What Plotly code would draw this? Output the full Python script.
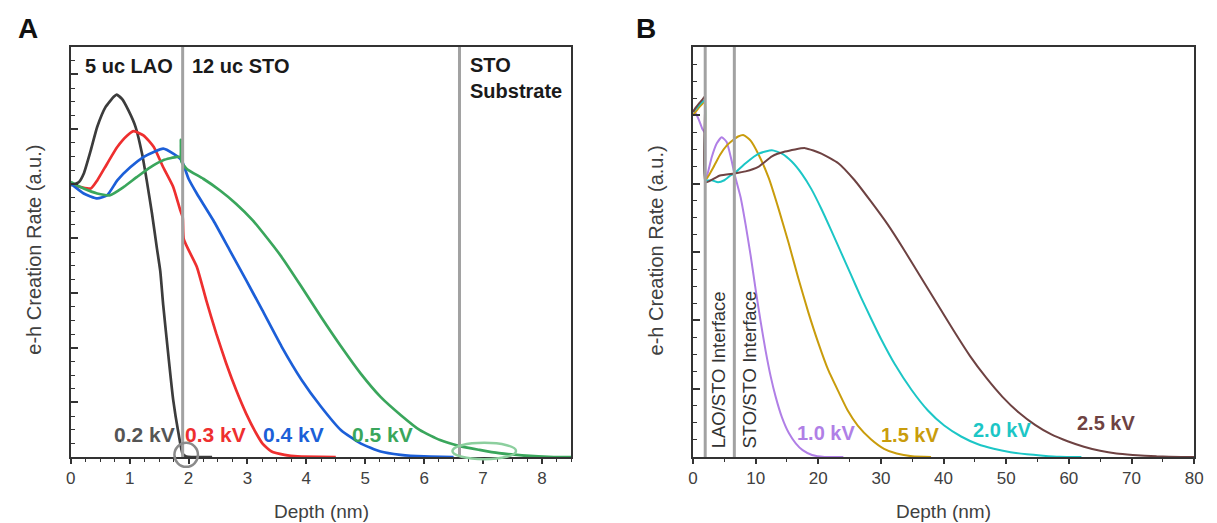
import plotly.graph_objects as go

# ---------------- Panel A data (depth nm, e-h rate a.u.) ----------------
a_black_x = [0, 0.14, 0.22, 0.34, 0.45, 0.59, 0.73, 0.78, 0.87, 0.98, 1.10, 1.21, 1.29, 1.38, 1.46, 1.52,
             1.57, 1.66, 1.74, 1.83, 1.90, 1.96, 2.05, 2.4]
a_black_y = [4.97, 5.03, 5.18, 5.61, 6.04, 6.40, 6.59, 6.63, 6.55, 6.34, 6.04, 5.55, 5.06, 4.45, 3.84, 3.40,
             2.78, 1.83, 1.04, 0.43, 0.06, 0.01, 0.0, 0.0]

a_red_x = [0, 0.17, 0.34, 0.45, 0.62, 0.79, 0.96, 1.07, 1.24, 1.41, 1.57, 1.74, 1.86, 1.90, 1.92, 2.14, 2.30,
           2.47, 2.64, 2.81, 2.98, 3.15, 3.26, 3.41, 3.63, 3.85, 4.5]
a_red_y = [4.99, 4.94, 4.91, 5.06, 5.37, 5.67, 5.88, 5.96, 5.88, 5.67, 5.30, 4.94, 4.51, 4.39, 3.98, 3.48, 2.87,
           2.26, 1.71, 1.22, 0.79, 0.43, 0.24, 0.10, 0.04, 0.01, 0.0]

a_blue_x = [0, 0.22, 0.45, 0.62, 0.79, 1.01, 1.24, 1.41, 1.57, 1.74, 1.88, 2.0, 2.14, 2.42, 2.70, 2.98, 3.25,
            3.58, 3.92, 4.25, 4.59, 4.92, 5.26, 5.60, 6.0, 6.5]
a_blue_y = [5.0, 4.82, 4.73, 4.79, 5.06, 5.30, 5.49, 5.58, 5.64, 5.55, 5.43, 5.09, 4.82, 4.33, 3.78, 3.23, 2.69,
            2.02, 1.41, 0.92, 0.49, 0.25, 0.10, 0.04, 0.01, 0.0]

a_green_x = [0, 0.22, 0.45, 0.67, 0.90, 1.12, 1.35, 1.57, 1.80, 1.86, 1.87, 1.88, 1.97, 2.25, 2.53, 2.81, 3.09,
             3.25, 3.58, 3.92, 4.25, 4.59, 4.92, 5.26, 5.60, 5.93, 6.27, 6.60, 6.94, 7.27, 7.66, 8.2, 8.5]
a_green_y = [5.03, 4.91, 4.82, 4.79, 4.94, 5.12, 5.30, 5.43, 5.49, 5.49, 5.80, 5.40, 5.27, 5.09, 4.88, 4.63, 4.33,
             4.12, 3.66, 3.11, 2.56, 2.02, 1.53, 1.10, 0.77, 0.49, 0.31, 0.20, 0.13, 0.07, 0.03, 0.0, 0.0]

a_labels = ["0.2 kV", "0.3 kV", "0.4 kV", "0.5 kV"]
a_label_x = [1.26, 2.46, 3.79, 5.30]
a_label_y = [0.42, 0.42, 0.42, 0.42]
a_interfaces = [1.9, 6.6]
a_regions = ["5 uc LAO", "12 uc STO", "STO<br>Substrate"]

# ---------------- Panel B data ----------------
b_purple_x = [0, 0.5, 1.0, 1.5, 1.9, 2.0, 3.0, 3.8, 4.58, 5.37, 6.16, 6.6, 7.6, 8.4, 9.2, 10.0, 10.8, 11.6,
              12.4, 13.2, 14.2, 15.3, 16.4, 17.5, 19.0, 21.0, 24.0]
b_purple_y = [5.08, 5.02, 4.92, 4.80, 4.74, 4.04, 4.39, 4.59, 4.68, 4.61, 4.34, 4.15, 3.80, 3.40, 2.95, 2.45,
              1.98, 1.55, 1.18, 0.88, 0.58, 0.35, 0.20, 0.10, 0.03, 0.0, 0.0]

b_orange_x = [0, 0.5, 1.0, 1.5, 1.9, 2.0, 3.26, 4.3, 5.4, 6.4, 7.2, 8.1, 9.2, 10.5, 12.1, 13.7, 15.3, 16.8,
              18.4, 20.0, 21.6, 23.2, 24.7, 26.3, 28.4, 30.5, 32.5, 35.0, 38.0]
b_orange_y = [5.00, 5.06, 5.12, 5.17, 5.20, 4.05, 4.24, 4.42, 4.56, 4.64, 4.69, 4.71, 4.63, 4.42, 4.08, 3.62,
              3.12, 2.62, 2.12, 1.67, 1.27, 0.96, 0.68, 0.46, 0.26, 0.12, 0.05, 0.01, 0.0]

b_teal_x = [0, 0.5, 1.0, 1.5, 1.9, 2.0, 3.0, 4.0, 5.0, 6.0, 6.6, 8.4, 10.5, 12.6, 14.2, 15.8, 17.4, 18.9, 20.5,
            22.1, 23.7, 25.3, 26.8, 28.4, 30.0, 32.2, 34.9, 37.5, 40.1, 42.8, 45.4, 48.0, 50.7, 53.3, 55.9,
            58.5, 62.0]
b_teal_y = [5.05, 5.10, 5.15, 5.20, 5.22, 4.05, 4.05, 4.02, 4.05, 4.12, 4.15, 4.30, 4.44, 4.49, 4.44, 4.32,
            4.14, 3.92, 3.63, 3.31, 2.98, 2.65, 2.34, 2.03, 1.73, 1.36, 0.98, 0.68, 0.46, 0.30, 0.19, 0.12,
            0.07, 0.04, 0.02, 0.005, 0.0]

b_brown_x = [0, 0.5, 1.0, 1.5, 1.9, 2.0, 4.3, 6.6, 8.4, 10.5, 12.6, 14.7, 17.9, 20.5, 23.2, 25.8, 28.4, 31.1,
             33.7, 36.3, 39.0, 41.6, 44.2, 46.8, 49.4, 52.0, 54.6, 57.2, 59.8, 62.4, 65.0, 67.6, 70.2, 74.0,
             78.0, 80.0]
b_brown_y = [5.05, 5.12, 5.18, 5.23, 5.28, 4.02, 4.12, 4.15, 4.18, 4.25, 4.40, 4.47, 4.52, 4.44, 4.30, 4.05,
             3.74, 3.40, 3.03, 2.64, 2.24, 1.85, 1.48, 1.16, 0.88, 0.65, 0.47, 0.33, 0.23, 0.15, 0.09, 0.05,
             0.03, 0.01, 0.0, 0.0]

b_labels = ["1.0 kV", "1.5 kV", "2.0 kV", "2.5 kV"]
b_label_x = [21.2, 34.6, 49.4, 65.9]
b_label_y = [0.35, 0.32, 0.40, 0.50]
b_interfaces = [1.95, 6.6]
b_interface_text = ["LAO/STO Interface", "STO/STO Interface"]

# ---------------- layout geometry ----------------
W, H = 1217, 523
FONT = "Arial, Liberation Sans, sans-serif"
AX = "#333333"
TXT = "#404040"

def px_x(p):
    return p / W

def px_y(p):
    return 1 - p / H

A_dom = [px_x(66.5), px_x(573)]
B_dom = [px_x(696), px_x(1203)]
Y_dom = [px_y(457), px_y(47)]
A_yr = [0, 7.5]
B_yr = [0, 6]

colsA = ["#3c3c3c", "#ee2f2f", "#1c5fd8", "#3aa65c"]
colsB = ["#b07fe6", "#c99c0c", "#1cc6c6", "#6e4242"]

fig = go.Figure()

def add_line(x, y, color, xa, ya, w):
    fig.add_trace(go.Scatter(x=x, y=y, mode="lines", line=dict(color=color, width=w, shape="spline", smoothing=0.5),
                             xaxis=xa, yaxis=ya, showlegend=False, hoverinfo="skip"))

for x, y, c in zip([a_black_x, a_red_x, a_blue_x, a_green_x], [a_black_y, a_red_y, a_blue_y, a_green_y], colsA):
    add_line(x, y, c, "x", "y", 2.7)
for x, y, c in zip([b_purple_x, b_orange_x, b_teal_x, b_brown_x], [b_purple_y, b_orange_y, b_teal_y, b_brown_y], colsB):
    add_line(x, y, c, "x2", "y2", 2.0)

def ycoord(v, yr):
    # data value -> paper coordinate
    return Y_dom[0] + (v - yr[0]) / (yr[1] - yr[0]) * (Y_dom[1] - Y_dom[0])

shapes = []
for xv in a_interfaces:
    shapes.append(dict(type="line", xref="x", yref="y domain", x0=xv, x1=xv, y0=0, y1=1,
                       line=dict(color="#a2a2a2", width=3), layer="above"))
for xv in b_interfaces:
    shapes.append(dict(type="line", xref="x2", yref="y2 domain", x0=xv, x1=xv, y0=0, y1=1,
                       line=dict(color="#a2a2a2", width=3), layer="above"))
# highlight circle and ellipse (panel A)
circ_c = (1.96, 0.04)
shapes.append(dict(type="circle", xref="x", yref="paper", x0=circ_c[0] - 0.2, x1=circ_c[0] + 0.2,
                   y0=ycoord(circ_c[1] - 0.22, A_yr), y1=ycoord(circ_c[1] + 0.22, A_yr),
                   line=dict(color="#8a8a8a", width=2.5), layer="above"))
ell_c = (7.02, 0.11)
shapes.append(dict(type="circle", xref="x", yref="paper", x0=ell_c[0] - 0.54, x1=ell_c[0] + 0.54,
                   y0=ycoord(ell_c[1] - 0.15, A_yr), y1=ycoord(ell_c[1] + 0.15, A_yr),
                   line=dict(color="#8ccf9e", width=2.5), layer="above"))

ann = []
for t, x, y, c in zip(a_labels, a_label_x, a_label_y, ["#555555"] + colsA[1:]):
    ann.append(dict(text="<b>%s</b>" % t, x=x, y=y, xref="x", yref="y", showarrow=False,
                    font=dict(family=FONT, size=21, color=c), xanchor="center", yanchor="middle"))
for t, x, y, c in zip(b_labels, b_label_x, b_label_y, colsB):
    ann.append(dict(text="<b>%s</b>" % t, x=x, y=y, xref="x2", yref="y2", showarrow=False,
                    font=dict(family=FONT, size=20, color=c), xanchor="center", yanchor="middle"))
# region labels (panel A)
ann.append(dict(text="<b>%s</b>" % a_regions[0], x=0.2, y=7.15, xref="x", yref="y", showarrow=False,
                font=dict(family=FONT, size=20, color="#1a1a1a"), xanchor="left", yanchor="middle"))
ann.append(dict(text="<b>%s</b>" % a_regions[1], x=2.03, y=7.15, xref="x", yref="y", showarrow=False,
                font=dict(family=FONT, size=20, color="#1a1a1a"), xanchor="left", yanchor="middle"))
ann.append(dict(text="<b>%s</b>" % a_regions[2], x=6.75, y=7.4, xref="x", yref="y", showarrow=False,
                font=dict(family=FONT, size=20, color="#1a1a1a"), xanchor="left", yanchor="top", align="left"))
# interface text (panel B)
for t, x in zip(b_interface_text, [4.1, 9.0]):
    ann.append(dict(text=t, x=x, y=0.1, xref="x2", yref="y2", showarrow=False, textangle=-90,
                    font=dict(family=FONT, size=18.5, color="#333333"), xanchor="center", yanchor="bottom"))
# axis titles
for cx in [(66.5 + 573) / 2, (696 + 1203) / 2]:
    ann.append(dict(text="Depth (nm)", x=px_x(cx), y=px_y(511), xref="paper", yref="paper", showarrow=False,
                    font=dict(family=FONT, size=19, color=TXT), xanchor="center", yanchor="middle"))
for cx in [29, 659]:
    ann.append(dict(text="e-h Creation Rate (a.u.)", x=px_x(cx), y=px_y(250), xref="paper", yref="paper",
                    showarrow=False, textangle=-90, font=dict(family=FONT, size=20, color=TXT),
                    xanchor="center", yanchor="middle"))
# panel letters
for t, cx in [("A", 23), ("B", 648)]:
    ann.append(dict(text="<b>%s</b>" % t, x=px_x(cx), y=px_y(29), xref="paper", yref="paper", showarrow=False,
                    font=dict(family=FONT, size=28, color="#111111"), xanchor="center", yanchor="middle"))

def xaxis(dom, rng, dtick, mdtick, anchor):
    return dict(domain=dom, range=rng, tick0=0, dtick=dtick, ticks="outside", ticklen=5, tickwidth=1.5,
                tickcolor=AX, showline=True, linecolor=AX, linewidth=2, mirror=True, showgrid=False,
                zeroline=False, tickfont=dict(family=FONT, size=17, color=TXT), anchor=anchor,
                minor=dict(dtick=mdtick, tick0=0, ticks="outside", ticklen=3, tickwidth=1.2, tickcolor=AX,
                           showgrid=False), fixedrange=True)

def yaxis(rng, anchor):
    return dict(domain=Y_dom, range=rng, tick0=0, dtick=1, ticks="inside", ticklen=7, tickwidth=1.5,
                tickcolor=AX, showline=True, linecolor=AX, linewidth=2, mirror=True, showgrid=False,
                zeroline=False, showticklabels=False, anchor=anchor,
                minor=dict(dtick=0.25, tick0=0, ticks="inside", ticklen=4, tickwidth=1.2, tickcolor=AX,
                           showgrid=False), fixedrange=True)

fig.update_layout(
    width=W, height=H, margin=dict(l=0, r=0, t=0, b=0),
    paper_bgcolor="white", plot_bgcolor="white",
    xaxis=xaxis(A_dom, [0, 8.5], 1, 0.25, "y"),
    yaxis=yaxis(A_yr, "x"),
    xaxis2=xaxis(B_dom, [0, 80], 10, 5, "y2"),
    yaxis2=yaxis(B_yr, "x2"),
    shapes=shapes, annotations=ann, showlegend=False,
)

fig.write_html("out.html")
